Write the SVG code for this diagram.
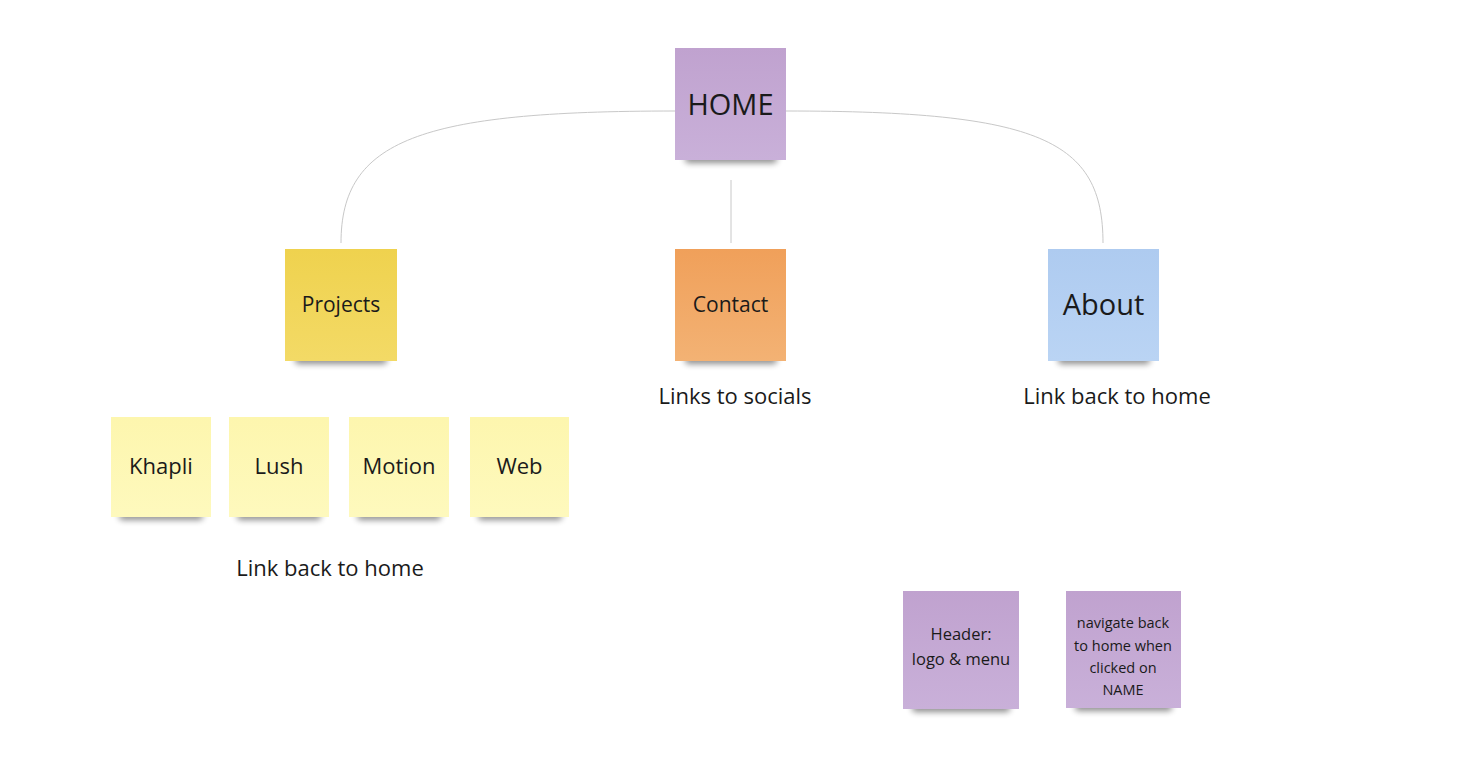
<svg xmlns="http://www.w3.org/2000/svg" width="1464" height="782" viewBox="0 0 1464 782">
<defs>
<filter id="sh" x="-20%" y="-100%" width="140%" height="300%"><feGaussianBlur stdDeviation="3"/></filter>
<linearGradient id="pu" x1="0" y1="0" x2="0" y2="1"><stop offset="0" stop-color="#c0a2cf"/><stop offset="1" stop-color="#c9b0d9"/></linearGradient>
<linearGradient id="ye" x1="0" y1="0" x2="0" y2="1"><stop offset="0" stop-color="#efd24e"/><stop offset="1" stop-color="#f3da66"/></linearGradient>
<linearGradient id="or" x1="0" y1="0" x2="0" y2="1"><stop offset="0" stop-color="#f0a05a"/><stop offset="1" stop-color="#f3b274"/></linearGradient>
<linearGradient id="bl" x1="0" y1="0" x2="0" y2="1"><stop offset="0" stop-color="#aecbf0"/><stop offset="1" stop-color="#bad4f4"/></linearGradient>
<linearGradient id="ly" x1="0" y1="0" x2="0" y2="1"><stop offset="0" stop-color="#fdf6ae"/><stop offset="1" stop-color="#fef9bd"/></linearGradient>
</defs>
<style>
text{font-family:"Open Sans","Noto Sans",sans-serif;fill:#1a1a1a;text-anchor:middle}
.s{fill:#000;opacity:.45;filter:url(#sh)}
.c{fill:none;stroke:#c8c8c8;stroke-width:1}
</style>
<rect width="1464" height="782" fill="#fff"/>
<g id="connectors">
<path class="c" d="M675 111 C420 111 341 140 341 243"/>
<path class="c" d="M786 111 C1040 111 1103 140 1103 243"/>
<path class="c" d="M731 180 L731 243"/>
</g>
<g id="home"><rect class="s" x="685" y="154" width="92" height="9" rx="4"/><rect x="675" y="48" width="111" height="112" fill="url(#pu)"/><text x="730.5" y="115" font-size="29">HOME</text></g>
<g id="projects"><rect class="s" x="295" y="355" width="92" height="9" rx="4"/><rect x="285" y="249" width="112" height="112" fill="url(#ye)"/><text x="341" y="312" font-size="21">Projects</text></g>
<g id="contact"><rect class="s" x="685" y="355" width="92" height="9" rx="4"/><rect x="675" y="249" width="111" height="112" fill="url(#or)"/><text x="730.5" y="312" font-size="21">Contact</text></g>
<g id="about"><rect class="s" x="1058" y="355" width="92" height="9" rx="4"/><rect x="1048" y="249" width="111" height="112" fill="url(#bl)"/><text x="1103.5" y="315" font-size="29">About</text></g>
<g id="links-socials"><text x="735" y="404" font-size="22">Links to socials</text></g>
<g id="link-home-about"><text x="1117" y="404" font-size="22">Link back to home</text></g>
<g id="khapli"><rect class="s" x="119" y="512" width="84" height="8" rx="4"/><rect x="111" y="417" width="100" height="100" fill="url(#ly)"/><text x="161" y="474" font-size="22">Khapli</text></g>
<g id="lush"><rect class="s" x="237" y="512" width="84" height="8" rx="4"/><rect x="229" y="417" width="100" height="100" fill="url(#ly)"/><text x="279" y="474" font-size="22">Lush</text></g>
<g id="motion"><rect class="s" x="357" y="512" width="84" height="8" rx="4"/><rect x="349" y="417" width="100" height="100" fill="url(#ly)"/><text x="399" y="474" font-size="22">Motion</text></g>
<g id="web"><rect class="s" x="478" y="512" width="84" height="8" rx="4"/><rect x="470" y="417" width="99" height="100" fill="url(#ly)"/><text x="519.5" y="474" font-size="22">Web</text></g>
<g id="link-home-projects"><text x="330" y="576" font-size="22">Link back to home</text></g>
<g id="header"><rect class="s" x="912" y="703" width="98" height="9" rx="4"/><rect x="903" y="591" width="116" height="118" fill="url(#pu)"/><text x="961" y="640" font-size="16.5">Header:</text><text x="961" y="665" font-size="16.5">logo &amp; menu</text></g>
<g id="navigate"><rect class="s" x="1075" y="702" width="97" height="9" rx="4"/><rect x="1066" y="591" width="115" height="117" fill="url(#pu)"/><text x="1123" y="628" font-size="14.5">navigate back</text><text x="1123" y="651" font-size="14.5">to home when</text><text x="1123" y="673" font-size="14.5">clicked on</text><text x="1123" y="695" font-size="14.5">NAME</text></g>
</svg>
